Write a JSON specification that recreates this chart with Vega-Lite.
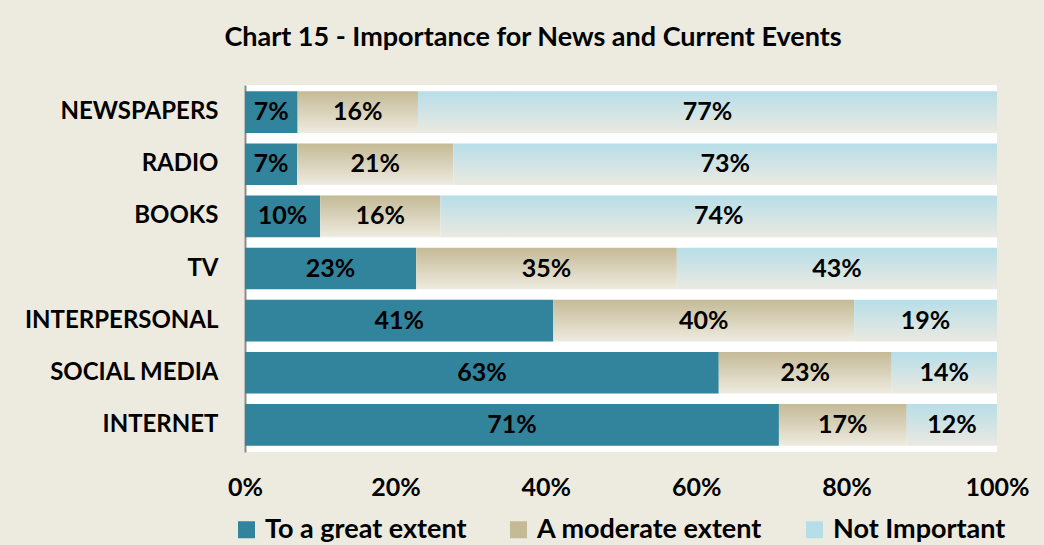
{
  "$schema": "https://vega.github.io/schema/vega-lite/v6.json",
  "width": 752,
  "height": 367,
  "autosize": {"type": "none"},
  "padding": {"left": 245, "top": 85, "right": 47, "bottom": 93},
  "background": "#EDEBE0",
  "config": {"view": {"fill": "white", "stroke": null}, "font": "Lato"},
  "title": {"text": "Chart 15 - Importance for News and Current Events", "fontSize": 27, "fontWeight": "bold", "color": "black", "anchor": "middle", "dx": -88, "offset": 33, "font": "Lato"},
  "data": {"values": [
    {"media": "NEWSPAPERS", "cat": "To a great extent", "k": 1, "pct": 0.07},
    {"media": "NEWSPAPERS", "cat": "A moderate extent", "k": 2, "pct": 0.16},
    {"media": "NEWSPAPERS", "cat": "Not Important", "k": 3, "pct": 0.77},
    {"media": "RADIO", "cat": "To a great extent", "k": 1, "pct": 0.07},
    {"media": "RADIO", "cat": "A moderate extent", "k": 2, "pct": 0.21},
    {"media": "RADIO", "cat": "Not Important", "k": 3, "pct": 0.73},
    {"media": "BOOKS", "cat": "To a great extent", "k": 1, "pct": 0.10},
    {"media": "BOOKS", "cat": "A moderate extent", "k": 2, "pct": 0.16},
    {"media": "BOOKS", "cat": "Not Important", "k": 3, "pct": 0.74},
    {"media": "TV", "cat": "To a great extent", "k": 1, "pct": 0.23},
    {"media": "TV", "cat": "A moderate extent", "k": 2, "pct": 0.35},
    {"media": "TV", "cat": "Not Important", "k": 3, "pct": 0.43},
    {"media": "INTERPERSONAL", "cat": "To a great extent", "k": 1, "pct": 0.41},
    {"media": "INTERPERSONAL", "cat": "A moderate extent", "k": 2, "pct": 0.40},
    {"media": "INTERPERSONAL", "cat": "Not Important", "k": 3, "pct": 0.19},
    {"media": "SOCIAL MEDIA", "cat": "To a great extent", "k": 1, "pct": 0.63},
    {"media": "SOCIAL MEDIA", "cat": "A moderate extent", "k": 2, "pct": 0.23},
    {"media": "SOCIAL MEDIA", "cat": "Not Important", "k": 3, "pct": 0.14},
    {"media": "INTERNET", "cat": "To a great extent", "k": 1, "pct": 0.71},
    {"media": "INTERNET", "cat": "A moderate extent", "k": 2, "pct": 0.17},
    {"media": "INTERNET", "cat": "Not Important", "k": 3, "pct": 0.12}
  ]},
  "encoding": {
    "y": {"field": "media", "type": "nominal",
      "sort": ["NEWSPAPERS", "RADIO", "BOOKS", "TV", "INTERPERSONAL", "SOCIAL MEDIA", "INTERNET"],
      "scale": {"paddingInner": 0.2, "paddingOuter": 0.12},
      "axis": {"title": null, "domainColor": "#8C8C8C", "domainWidth": 2, "ticks": false, "labelFontSize": 24, "labelFontWeight": "bold", "labelColor": "black", "labelPadding": 27, "labelFont": "Lato", "labelLimit": 300}}
  },
  "layer": [
    {
      "mark": {"type": "bar"},
      "encoding": {
        "x": {"field": "pct", "type": "quantitative", "stack": "normalize", "scale": {"domain": [0, 1]},
          "axis": {"values": [0, 0.2, 0.4, 0.6, 0.8, 1], "format": ".0%", "domain": false, "ticks": false, "grid": false, "labelFontSize": 25, "labelFontWeight": "bold", "labelColor": "black", "labelPadding": 23, "title": null, "labelFlush": false, "labelFont": "Lato"}},
        "fill": {
          "condition": [
            {"test": "datum.cat === 'A moderate extent'", "value": {"gradient": "linear", "x1": 0, "y1": 0, "x2": 0, "y2": 1, "stops": [{"offset": 0, "color": "#C4BA96"}, {"offset": 1, "color": "#EEEBE0"}]}},
            {"test": "datum.cat === 'Not Important'", "value": {"gradient": "linear", "x1": 0, "y1": 0, "x2": 0, "y2": 1, "stops": [{"offset": 0, "color": "#B7DEE8"}, {"offset": 1, "color": "#EBE9E1"}]}}
          ],
          "field": "cat", "type": "nominal",
          "scale": {"domain": ["To a great extent", "A moderate extent", "Not Important"], "range": ["#31849B", "#C4BA96", "#B7DEE8"]},
          "legend": {"orient": "none", "legendX": -12, "legendY": 431, "direction": "horizontal", "title": null, "symbolType": "square", "symbolSize": 289, "symbolStrokeWidth": 0, "labelFontSize": 27, "labelFont": "Lato", "labelFontWeight": "bold", "labelColor": "black", "columnPadding": 38, "labelOffset": 5, "padding": 0, "labelLimit": 400}
        },
        "order": {"field": "k", "type": "quantitative"}
      }
    },
    {
      "mark": {"type": "text", "fontSize": 25, "fontWeight": "bold", "color": "black", "font": "Lato"},
      "encoding": {
        "x": {"field": "pct", "type": "quantitative", "stack": "normalize", "bandPosition": 0.5},
        "text": {"field": "pct", "type": "quantitative", "format": ".0%"},
        "detail": {"field": "cat"},
        "order": {"field": "k", "type": "quantitative"}
      }
    }
  ]
}
